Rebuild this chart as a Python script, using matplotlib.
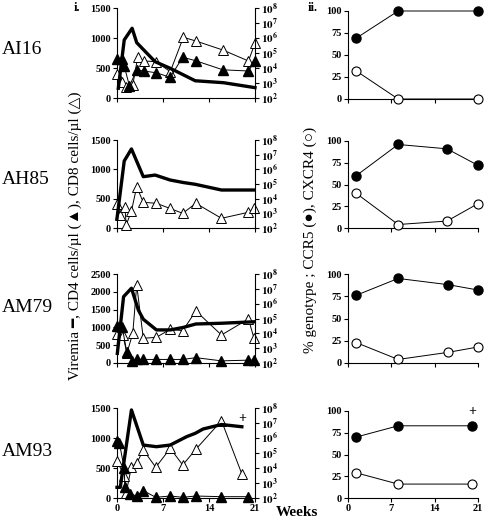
import numpy as np
from matplotlib import pyplot as plt

plt.rcParams['font.family'] = ['Liberation Serif', 'DejaVu Sans']
plt.rcParams['mathtext.fontset'] = 'stix'

# Data (weeks; CD4/CD8 in cells/ul; viremia as log10 copies)
patients = ["AI16", "AH85", "AM79", "AM93"]

vir_wk = [
    [0.2, 1.1, 2.3, 3.0, 5.8, 8.1, 11.9, 16.2, 21.0],
    [0.0, 1.1, 2.2, 4.0, 5.8, 8.1, 10.1, 11.9, 15.9, 20.9],
    [0.05, 1.0, 2.2, 3.25, 4.0, 6.0, 8.1, 10.1, 12.0, 15.9, 20.9],
    [0.0, 0.5, 2.2, 4.0, 6.0, 8.1, 10.6, 11.9, 13.1, 15.9, 19.0],
]
vir_log = [
    [2.65, 5.87, 6.65, 5.69, 4.42, 3.98, 3.15, 3.02, 2.69],
    [2.66, 6.57, 7.39, 5.5, 5.61, 5.27, 5.1, 4.98, 4.59, 4.59],
    [2.65, 6.47, 7.04, 5.57, 4.95, 4.23, 4.23, 4.4, 4.63, 4.68, 4.78],
    [2.71, 2.71, 7.87, 5.53, 5.42, 5.53, 6.09, 6.31, 6.6, 6.9, 6.75],
]

cd8_wk = [
    [0.05, 0.7, 1.4, 2.4, 3.15, 4.1, 6.0, 8.1, 10.1, 12.0, 16.1, 20.0, 21.0],
    [0.0, 0.5, 1.2, 1.4, 2.2, 3.0, 4.0, 6.0, 8.0, 10.0, 12.0, 15.9, 20.0, 20.85],
    [0.05, 0.9, 1.5, 2.4, 3.0, 4.0, 6.0, 8.1, 10.0, 12.0, 15.9, 20.0, 20.85],
    [0.0, 1.1, 1.4, 2.2, 3.0, 4.0, 5.9, 8.1, 10.0, 12.0, 15.9, 19.0],
]
cd8_val = [
    [400, 272, 178, 217, 678, 617, 605, 438, 1012, 950, 800, 617, 912],
    [404, 222, 363, 51, 290, 704, 438, 421, 336, 250, 421, 165, 268, 336],
    [815, 787, 272, 834, 2191, 694, 722, 947, 908, 1461, 787, 1236, 694],
    [622, 367, 88, 522, 578, 800, 512, 828, 550, 812, 1288, 400],
]

cd4_wk = [
    [0.05, 0.7, 1.1, 1.9, 3.0, 4.1, 6.0, 8.1, 10.0, 12.0, 16.1, 20.0, 21.0],
    [],
    [0.0, 0.8, 1.5, 2.3, 3.0, 4.0, 6.0, 8.1, 10.0, 12.0, 15.9, 20.0, 20.85],
    [0.0, 0.35, 1.1, 1.2, 2.0, 3.0, 4.0, 5.9, 8.1, 10.0, 12.0, 15.9, 20.0],
]
cd4_val = [
    [650, 650, 530, 200, 470, 450, 420, 345, 680, 620, 470, 450, 617],
    [],
    [1050, 1000, 300, 60, 100, 100, 100, 100, 100, 150, 60, 80, 80],
    [955, 922, 495, 178, 67, 33, 122, 12, 33, 12, 33, 22, 22],
]
ymax = [1500, 1500, 2500, 1500]

geno_wk = [
    [1.3, 8.1, 21.0],
    [1.3, 8.1, 16.0, 21.0],
    [1.3, 8.1, 16.2, 21.0],
    [1.3, 8.1, 20.1],
]
ccr5 = [[69, 100, 100], [60, 96, 91, 72], [76, 95, 88, 82], [70, 83, 83]]
cxcr4 = [[32, 0, 0], [40, 4, 8, 28], [23, 4, 12, 18], [29, 16, 16]]

W, H = 484, 527
fig = plt.figure(figsize=(W / 100, H / 100), dpi=100)

left_box = [(8, 98), (140, 228), (274, 363), (408, 498)]
right_box = [(11, 99), (141, 228), (274, 363), (411, 498)]
label_y = [49, 180, 308, 451]


def style(ax):
    for s in ['top', 'right']:
        ax.spines[s].set_visible(False)
    ax.tick_params(direction='out', length=3, width=0.8, pad=1.5,
                   labelsize=7.5)
    for lab in ax.get_xticklabels() + ax.get_yticklabels():
        lab.set_fontweight('bold')


for i in range(4):
    top, bot = left_box[i]
    ax = fig.add_axes([117 / W, 1 - bot / H, 138 / W, (bot - top) / H])
    ax.set_xlim(0, 21)
    ax.set_ylim(0, ymax[i])
    ax.set_xticks([0, 7, 14, 21])
    ax.set_yticks(np.arange(0, ymax[i] + 1, 500))
    ax.plot(cd8_wk[i], cd8_val[i], '-^', color='black', lw=0.7, ms=6.5,
            mfc='white', mec='black', mew=0.7, clip_on=False, zorder=3)
    if cd4_wk[i]:
        ax.plot(cd4_wk[i], cd4_val[i], '-^', color='black', lw=0.7, ms=6.5,
                mfc='black', mec='black', clip_on=False, zorder=4)
    if i < 3:
        ax.set_xticklabels([])
    style(ax)

    ax2 = ax.twinx()
    ax2.set_yscale('log')
    ax2.set_ylim(1e2, 1e8)
    ax2.plot(vir_wk[i], 10 ** np.array(vir_log[i]), '-', color='black',
             lw=2.4, solid_joinstyle='round', clip_on=False)
    ax2.set_yticks([10 ** k for k in range(2, 9)])
    ax2.set_yticklabels([r'$\mathbf{10^{%d}}$' % k for k in range(2, 9)])
    ax2.minorticks_off()
    for s in ['top', 'left', 'bottom']:
        ax2.spines[s].set_visible(False)
    ax2.tick_params(direction='out', length=3, width=0.8, pad=1.5,
                    labelsize=8)
    if i == 3:
        ax2.text(19.1, 10 ** 7.3, '+', fontsize=10, fontweight='bold',
                 ha='center', va='center')

    fig.text(2 / W, 1 - label_y[i] / H, patients[i], fontsize=14,
             ha='left', va='center')

    # genotype panels
    top, bot = right_box[i]
    axr = fig.add_axes([348 / W, 1 - bot / H, 130 / W, (bot - top) / H])
    axr.set_xlim(0, 21)
    axr.set_ylim(0, 100)
    axr.set_xticks([0, 7, 14, 21])
    axr.set_yticks([0, 25, 50, 75, 100])
    axr.plot(geno_wk[i], ccr5[i], '-o', color='black', lw=0.7, ms=6.5,
             mfc='black', clip_on=False, zorder=4)
    axr.plot(geno_wk[i], cxcr4[i], '-o', color='black', lw=0.7, ms=6.5,
             mfc='white', mew=0.8, clip_on=False, zorder=4)
    if i < 3:
        axr.set_xticklabels([])
    style(axr)
    if i == 3:
        axr.text(20.1, 100, '+', fontsize=10, fontweight='bold',
                 ha='center', va='center')

fig.text(77 / W, 1 - 8 / H, 'i.', fontsize=9, fontweight='bold',
         ha='center', va='center')
fig.text(313 / W, 1 - 8 / H, 'ii.', fontsize=9, fontweight='bold',
         ha='center', va='center')
fig.text(75 / W, 1 - 236 / H,
         'Viremia \u2501, CD4 cells/\u00b5l (\u25b2), CD8 cells/\u00b5l (\u25b3)',
         rotation=90, fontsize=11, ha='center', va='center')
fig.text(310 / W, 1 - 240 / H,
         '% genotype ; CCR5 (\u25cf), CXCR4 (\u25cb)',
         rotation=90, fontsize=11, ha='center', va='center')
fig.text(297 / W, 1 - 513 / H, 'Weeks', fontsize=11, fontweight='bold',
         ha='center', va='center')

fig.savefig('out.png', dpi=100)
